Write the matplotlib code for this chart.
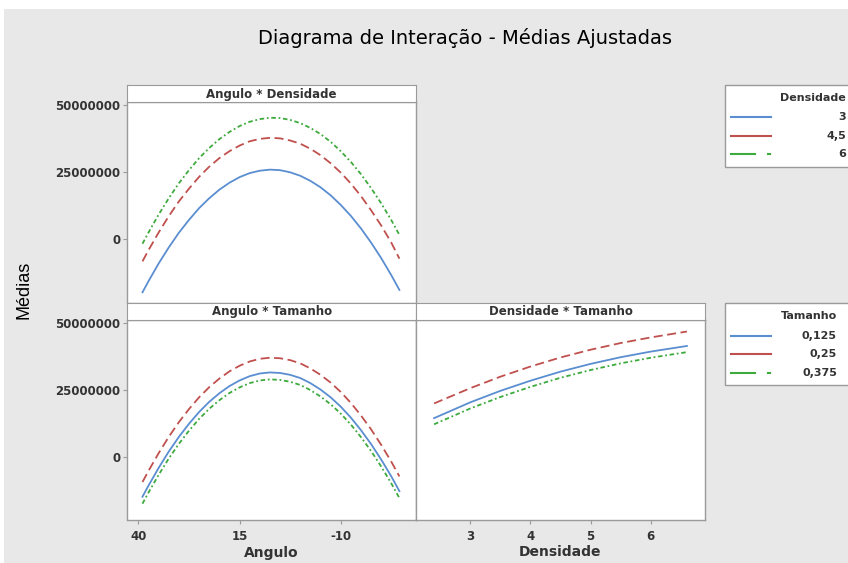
import matplotlib.pyplot as plt
from matplotlib.patches import Rectangle
from matplotlib.lines import Line2D
from matplotlib.ticker import FuncFormatter

# valores (médias em milhões)
angulo = [39, 37.5, 35, 32.5, 30, 27.5, 25, 22.5, 20, 17.5, 15, 12.5, 10, 7.5,
          5, 2.5, 0, -2.5, -5, -7.5, -10, -12.5, -15, -17.5, -20, -22.5, -24.5]
densidade = [2.4, 3, 3.5, 4, 4.5, 5, 5.5, 6, 6.6]

dens_niveis = ["3", "4,5", "6"]
tam_niveis = ["0,125", "0,25", "0,375"]

# Angulo * Densidade
ang_dens_3 = [-19.9, -15.7, -9.1, -3.1, 2.4, 7.2, 11.6, 15.3, 18.5, 21.1, 23.2, 24.7, 25.6, 26.0,
              25.8, 25.0, 23.7, 21.8, 19.4, 16.4, 12.8, 8.7, 4.0, -1.3, -7.1, -13.5, -19.0]
ang_dens_45 = [-8.3, -4.1, 2.5, 8.6, 14.1, 18.9, 23.3, 27.1, 30.3, 32.9, 35.0, 36.6, 37.5, 37.9,
               37.7, 36.9, 35.7, 33.8, 31.4, 28.4, 24.9, 20.8, 16.1, 10.8, 5.1, -1.3, -7.3]
ang_dens_6 = [-1.7, 2.5, 9.2, 15.3, 20.9, 25.8, 30.3, 34.1, 37.4, 40.1, 42.3, 43.9, 44.9, 45.4,
              45.3, 44.6, 43.4, 41.6, 39.3, 36.4, 32.9, 28.9, 24.3, 19.1, 13.4, 7.1, 1.6]

# Angulo * Tamanho
ang_tam_0125 = [-15.0, -10.8, -4.2, 1.9, 7.4, 12.3, 16.7, 20.5, 23.7, 26.4, 28.5, 30.1, 31.1, 31.5,
                31.3, 30.6, 29.4, 27.5, 25.1, 22.2, 18.7, 14.6, 9.9, 4.7, -1.1, -7.4, -12.9]
ang_tam_025 = [-9.5, -5.3, 1.3, 7.4, 12.9, 17.8, 22.2, 26.0, 29.2, 31.9, 34.0, 35.6, 36.6, 37.0,
               36.8, 36.1, 34.9, 33.0, 30.6, 27.7, 24.2, 20.1, 15.4, 10.2, 4.4, -1.9, -7.4]
ang_tam_0375 = [-17.6, -13.4, -6.8, -0.7, 4.8, 9.7, 14.1, 17.9, 21.1, 23.8, 25.9, 27.5, 28.5, 28.9,
                28.7, 28.0, 26.8, 24.9, 22.5, 19.6, 16.1, 12.0, 7.3, 2.1, -3.7, -10.0, -15.5]

# Densidade * Tamanho
dens_tam_0125 = [14.4, 20.3, 24.6, 28.4, 31.8, 34.7, 37.2, 39.3, 41.4]
dens_tam_025 = [19.9, 25.6, 29.9, 33.7, 37.1, 40.0, 42.5, 44.6, 46.8]
dens_tam_0375 = [12.1, 18.0, 22.3, 26.1, 29.5, 32.4, 34.9, 37.0, 39.1]

W, H = 848, 563
BG = "#e8e8e8"
EDGE = "#9a9a9a"
TXT = "#333333"
cores = ["#5a8ed0", "#c0504d", "#3daa3d"]
estilos = ["-", (0, (5, 2.5)), (0, (2.5, 1.5, 1, 1.5))]


def fx(x):
    return x / W


def fy(y):
    return 1 - y / H


fig = plt.figure(figsize=(W / 100, H / 100), dpi=100, facecolor="white")
fig.patches.append(Rectangle((fx(4), 0), 1, fy(9), transform=fig.transFigure,
                             facecolor=BG, edgecolor="none", zorder=-10))

fig.text(fx(465), fy(38), "Diagrama de Interação - Médias Ajustadas",
         ha="center", va="center", fontsize=14, family="DejaVu Sans")
fig.text(fx(24), fy(290), "Médias", rotation=90, ha="center", va="center",
         fontsize=13, family="Liberation Sans")

x0, xm, x1 = 127.5, 416, 705
yt, ys, yb = 85, 302.5, 520
strip_h = 17


def painel(left, right, top, bottom, titulo):
    ax = fig.add_axes([fx(left), fy(bottom), fx(right - left), (bottom - top - strip_h) / H])
    ax.set_facecolor("white")
    for s in ax.spines.values():
        s.set_color(EDGE)
        s.set_linewidth(1)
    ax.tick_params(length=3, color=EDGE, labelsize=8.5, pad=2)
    ax.tick_params(axis="x", pad=4)
    ax.set_ylim(-23.7e6, 51.3e6)
    ax.yaxis.set_major_formatter(FuncFormatter(lambda v, p: f"{v:.0f}"))
    ax.set_yticks([0, 25000000, 50000000])
    st = fig.add_axes([fx(left), fy(top + strip_h), fx(right - left), strip_h / H])
    st.set_xticks([])
    st.set_yticks([])
    for s in st.spines.values():
        s.set_color(EDGE)
    st.text(0.5, 0.45, titulo, ha="center", va="center", fontsize=8.5,
            fontweight="bold", color=TXT)
    return ax


ax1 = painel(x0, xm, yt, ys, "Angulo * Densidade")
ax2 = painel(x0, xm, ys, yb, "Angulo * Tamanho")
ax3 = painel(xm, x1, ys, yb, "Densidade * Tamanho")

for serie, c, ls in zip([ang_dens_3, ang_dens_45, ang_dens_6], cores, estilos):
    ax1.plot(angulo, [v * 1e6 for v in serie], color=c, linestyle=ls, lw=1.3)
for serie, c, ls in zip([ang_tam_0125, ang_tam_025, ang_tam_0375], cores, estilos):
    ax2.plot(angulo, [v * 1e6 for v in serie], color=c, linestyle=ls, lw=1.3)
for serie, c, ls in zip([dens_tam_0125, dens_tam_025, dens_tam_0375], cores, estilos):
    ax3.plot(densidade, [v * 1e6 for v in serie], color=c, linestyle=ls, lw=1.3)

for ax in (ax1, ax2):
    ax.set_xlim(42.7, -28.6)
    ax.set_xticks([40, 15, -10])
    ax.set_xticklabels(["40", "15", "-10"])
ax1.tick_params(axis="x", bottom=False, labelbottom=False)
ax3.set_xlim(2.1, 6.9)
ax3.set_xticks([3, 4, 5, 6])
ax3.tick_params(axis="y", left=False, labelleft=False)
for ax in (ax1, ax2, ax3):
    for lab in ax.get_xticklabels() + ax.get_yticklabels():
        lab.set_fontweight("bold")
        lab.set_color(TXT)

ax2.set_xlabel("Angulo", fontsize=10, fontweight="bold", color=TXT, labelpad=2)
ax3.set_xlabel("Densidade", fontsize=10, fontweight="bold", color=TXT, labelpad=2)


def legenda(top, bottom, titulo, niveis, xr, rows):
    fig.patches.append(Rectangle((fx(725), fy(bottom)), fx(140), (bottom - top) / H,
                                 transform=fig.transFigure, facecolor="white",
                                 edgecolor=EDGE, lw=1))
    fig.text(fx(xr), fy(rows[0]), titulo, ha="right", va="center", fontsize=8,
             fontweight="bold", color=TXT)
    for i, (nome, c) in enumerate(zip(niveis, cores)):
        y = fy(rows[i + 1])
        if i < 2:
            fig.add_artist(Line2D([fx(731), fx(771)], [y, y], color=c, lw=1.5))
        else:
            fig.add_artist(Line2D([fx(731), fx(755)], [y, y], color=c, lw=1.5))
            fig.add_artist(Line2D([fx(768), fx(770)], [y, y], color=c, lw=1.5))
        fig.text(fx(xr), y, nome, ha="right", va="center", fontsize=8,
                 fontweight="bold", color=TXT)


legenda(85, 167, "Densidade", dens_niveis, 846, [97.7, 117, 135.7, 154])
legenda(303, 385, "Tamanho", tam_niveis, 837, [315.7, 335.7, 354.3, 373.3])

fig.savefig("out.png", dpi=100, facecolor=fig.get_facecolor())
